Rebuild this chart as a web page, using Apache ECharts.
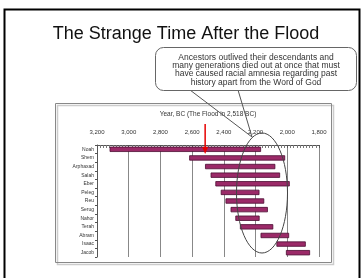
<!DOCTYPE html>
<html>
<head>
<meta charset="utf-8">
<script src="https://cdn.jsdelivr.net/npm/echarts@6/dist/echarts.min.js"></script>
<style>
html, body { margin: 0; padding: 0; background: #fff; }
#chart { width: 362px; height: 278px; }
</style>
</head>
<body>
<div id="chart"></div>
<script>
// patriarchs, top to bottom
var names = ['Noah', 'Shem', 'Arphaxad', 'Salah', 'Eber', 'Peleg', 'Reu', 'Serug', 'Nahor', 'Terah', 'Abram', 'Isaac', 'Jacob'];
// year born / year died, BC
var born = [3118, 2616, 2516, 2481, 2451, 2417, 2387, 2355, 2325, 2296, 2166, 2066, 2006];
var died = [2168, 2016, 2078, 2048, 1987, 2178, 2148, 2125, 2177, 2091, 1991, 1886, 1859];
var floodYear = 2518;
var yearTicks = [1800, 2000, 2200, 2400, 2600, 2800, 3000, 3200];
var calloutLines = [
    'Ancestors outlived their descendants and',
    'many generations died out at once that must',
    'have caused racial amnesia regarding past',
    'history apart from the Word of God'
];

var font = '"Liberation Sans", Arial, sans-serif';
var myChart = echarts.init(document.getElementById('chart'));

var spans = names.map(function (n, i) { return [born[i], died[i], i]; });

myChart.setOption({
    animation: false,
    textStyle: { fontFamily: font },
    grid: { left: 97, right: 43, top: 145, bottom: 21 },
    xAxis: {
        type: 'value',
        position: 'top',
        inverse: true,
        min: yearTicks[0],
        max: yearTicks[yearTicks.length - 1],
        interval: 200,
        name: 'Year, BC (The Flood in 2,518 BC)',
        nameLocation: 'middle',
        nameGap: 27,
        nameTextStyle: { fontSize: 6.5, color: '#333' },
        axisLine: { show: true, lineStyle: { color: '#555', width: 1 } },
        axisTick: { show: true, inside: true, length: 3, lineStyle: { color: '#555' } },
        minorTick: { show: true, splitNumber: 10, length: 3, lineStyle: { color: '#777' } },
        axisLabel: {
            fontSize: 6, color: '#333', margin: 10,
            formatter: function (v) { return v.toLocaleString('en-US'); }
        },
        splitLine: { show: true, lineStyle: { color: '#888', width: 1 } }
    },
    yAxis: {
        type: 'category',
        inverse: true,
        data: names,
        axisLine: { show: true, lineStyle: { color: '#555' } },
        axisTick: { show: true, length: 2, lineStyle: { color: '#555' } },
        axisLabel: { fontSize: 5, color: '#333', margin: 3 }
    },
    series: [{
        type: 'custom',
        data: spans,
        encode: { x: [0, 1], y: 2 },
        renderItem: function (params, api) {
            var p0 = api.coord([api.value(0), api.value(2)]);
            var p1 = api.coord([api.value(1), api.value(2)]);
            var h = 4.5;
            return {
                type: 'rect',
                shape: { x: p0[0], y: p0[1] - h / 2, width: p1[0] - p0[0], height: h },
                style: { fill: '#9b2a68', stroke: '#4b0d32', lineWidth: 0.8 }
            };
        }
    }]
});

// annotations drawn on top
var fx = myChart.convertToPixel({ xAxisIndex: 0 }, floodYear);
var graphics = [
    { type: 'polyline', shape: { points: [[4.5, 278], [4.5, 9.5], [359.5, 9.5], [359.5, 278]] },
      style: { stroke: '#000', lineWidth: 2, fill: null } },
    { type: 'rect', shape: { x: 57.5, y: 105.5, width: 276, height: 159 },
      style: { stroke: '#ccc', lineWidth: 1.5, fill: null }, z: -1 },
    { type: 'rect', shape: { x: 55.5, y: 103.5, width: 276, height: 159 },
      style: { stroke: '#888', lineWidth: 1, fill: null } },
    { type: 'text', x: 186, y: 34,
      style: { text: 'The Strange Time After the Flood', fontSize: 18, fill: '#111', align: 'center', verticalAlign: 'middle', fontFamily: font } },
    { type: 'ellipse', shape: { cx: 262, cy: 193, rx: 25.5, ry: 60 },
      style: { stroke: '#444', lineWidth: 1, fill: null }, z: 100 },
    { type: 'polyline', shape: { points: [[190, 90], [252, 137], [238, 90]] },
      style: { stroke: '#555', lineWidth: 1, fill: null }, z: 100 },
    { type: 'rect', shape: { x: 155.5, y: 47.5, width: 201, height: 43, r: 8 },
      style: { stroke: '#666', lineWidth: 1, fill: '#fff' }, z: 101 },
    { type: 'line', shape: { x1: fx, y1: 124, x2: fx, y2: 149 },
      style: { stroke: '#e60000', lineWidth: 1.5 }, z: 103 },
    { type: 'polygon', shape: { points: [[fx - 3, 147], [fx + 3, 147], [fx, 154]] },
      style: { fill: '#e60000' }, z: 103 }
];
calloutLines.forEach(function (t, i) {
    graphics.push({
        type: 'text', x: 256, y: 57.5 + i * 8.3, z: 110,
        style: { text: t, fontSize: 8.5, fill: '#333', align: 'center', verticalAlign: 'middle', fontFamily: font }
    });
});

myChart.setOption({ graphic: graphics });
</script>
</body>
</html>
